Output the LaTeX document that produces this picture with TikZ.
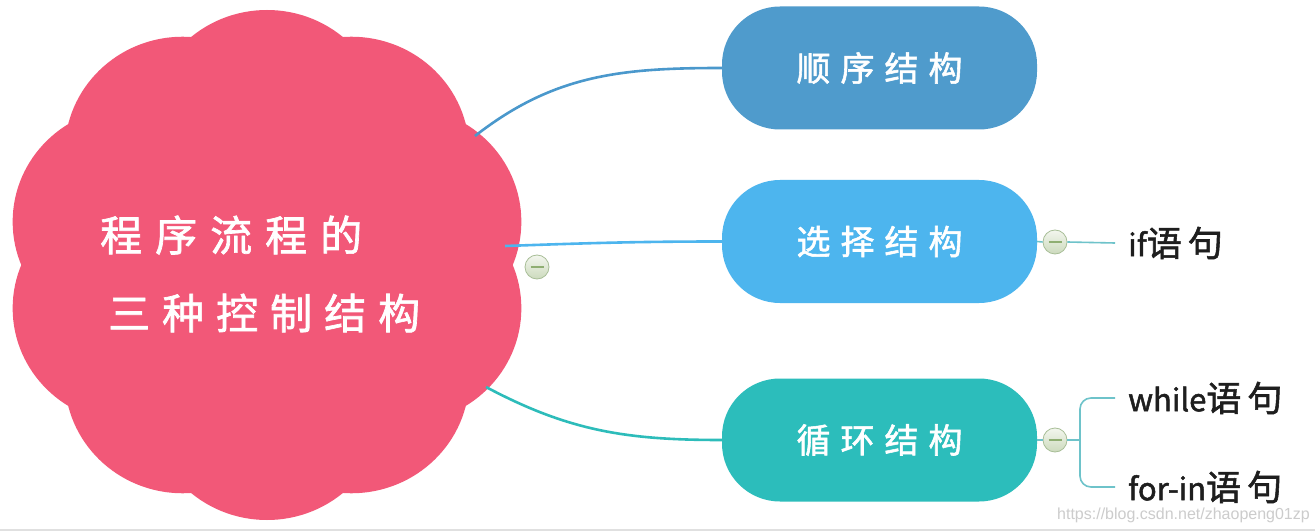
\documentclass[tikz,border=0pt]{standalone}
\usepackage{fontspec}
\setmainfont{Noto Sans CJK SC}
\newfontfamily\boldcjk[FakeBold=1.6]{Noto Sans CJK SC}
\newfontfamily\wmfont{Liberation Sans}
\definecolor{flower}{HTML}{F25878}
\definecolor{cA}{HTML}{4F9BCC}
\definecolor{cB}{HTML}{4DB5EE}
\definecolor{cC}{HTML}{2CBDBB}
\definecolor{lineA}{HTML}{4A98CC}
\definecolor{lineB}{HTML}{4DB5EE}
\definecolor{lineC}{HTML}{2DBCBA}
\definecolor{thin}{HTML}{6EC3CA}
\definecolor{btntop}{HTML}{F3F6EE}
\definecolor{btnbot}{HTML}{CCDABD}
\definecolor{btnedge}{HTML}{A8BE97}
\definecolor{btnbar}{HTML}{8FAE72}
\definecolor{ink}{HTML}{1E1E1E}
\begin{document}
\begin{tikzpicture}[x=1pt,y=1pt,
  pill/.style={rounded corners=58pt, minimum width=315pt, minimum height=123pt,
    text=white, inner sep=0pt, font=\boldcjk\fontsize{34}{40}\selectfont},
  conn/.style={line width=2.6pt},
  thinline/.style={line width=1.6pt, draw=thin},
  btn/.style={circle, minimum size=24pt, inner sep=0pt, draw=btnedge, line width=0.8pt,
    top color=btntop, bottom color=btnbot},
  btnminus/.style={draw=btnbar, line width=1.4pt},
  leaf/.style={anchor=west, inner sep=0pt, text=ink, font=\boldcjk\fontsize{35}{40}\selectfont}]
\useasboundingbox (0,0) rectangle (1315,531);
\fill[white] (0,0) rectangle (1315,531);
\fill[black!12] (0,0) rectangle (1315,2.5);

% flower-shaped central topic
\begin{scope}[shift={(267,266)}, xscale=1.025]
  \fill[flower] (0,0) circle[radius=170];
  \foreach \a in {18,54,...,342} \fill[flower] (\a:140) circle[radius=115];
\end{scope}
\node[anchor=west, align=left, inner sep=0pt, text=white,
  font=\boldcjk\fontsize{42}{78}\selectfont] (root) at (100,257)
  {程\hskip13pt 序\hskip13pt 流\hskip13pt 程\hskip13pt 的\\
   \hskip8pt 三\hskip12pt 种\hskip12pt 控\hskip12pt 制\hskip12pt 结\hskip12pt 构};
\coordinate (r1) at (475,395);
\coordinate (r2) at (505,285);
\coordinate (r3) at (486,144);

% main topics
\node[pill, fill=cA] (s1) at (879.5,463) {顺\hskip10pt 序\hskip10pt 结\hskip10pt 构};
\node[pill, fill=cB] (s2) at (879.5,289.5) {选\hskip10pt 择\hskip10pt 结\hskip10pt 构};
\node[pill, fill=cC] (s3) at (879.5,91) {循\hskip10pt 环\hskip10pt 结\hskip10pt 构};

\draw[conn, draw=lineA] (r1) to[out=38,in=180] (s1.west);
\draw[conn, draw=lineB] (r2) to[out=2,in=180] (s2.west);
\draw[conn, draw=lineC] (r3) to[out=-28,in=180] (s3.west);

% collapse buttons
\node[btn] (b0) at (537,264) {};
\node[btn] (b1) at (1055,289) {};
\node[btn] (b2) at (1055,91) {};
\foreach \b in {b0,b1,b2}
  \draw[btnminus] ([xshift=-6.5pt]\b.center) -- ([xshift=6.5pt]\b.center);

% leaves
\node[leaf] (l1) at (1128,288) {{\fontsize{31}{36}\selectfont if}语\hskip6pt 句};
\node[leaf] (l2) at (1128,133) {{\fontsize{31}{36}\selectfont while}语\hskip6pt 句};
\node[leaf] (l3) at (1128,44) {{\fontsize{31}{36}\selectfont for-in}语\hskip6pt 句};
\coordinate (j) at (1080,91);

\draw[thinline] (s2.east) -- (b1.west);
\draw[thinline] (b1.east) -- ([xshift=-13pt]l1.west);
\draw[thinline] (s3.east) -- (b2.west);
\draw[thinline] (b2.east) -- (j);
\draw[thinline, rounded corners=11pt] ([xshift=-13pt]l2.west) -| (j) |- ([xshift=-13pt]l3.west);

% watermark
\node[anchor=east, inner sep=0pt, text=black!20, font=\wmfont\fontsize{16}{18}\selectfont]
  (wm) at (1310,16) {https://blog.csdn.net/zhaopeng01zp};
\end{tikzpicture}
\end{document}
